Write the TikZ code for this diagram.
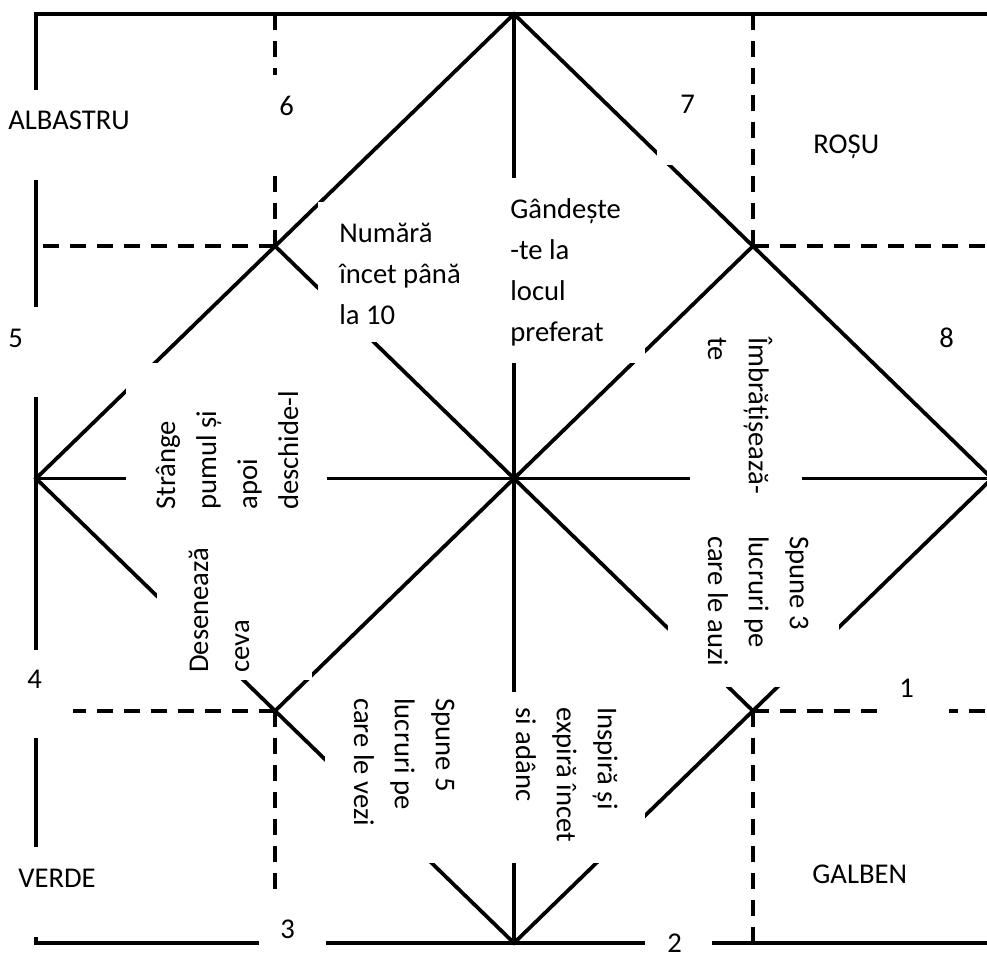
\documentclass[tikz,border=0pt]{standalone}
\usepackage{fontspec}
\setmainfont{Carlito}

\newcommand{\lblfont}{\fontsize{16.3}{23.3}\selectfont}

\tikzset{
fold/.style={line width=0.075cm},
crease/.style={line width=0.075cm, dash pattern=on 0.32cm off 0.22cm},
boxfill/.style={fill=white},
lbl/.style={font=\lblfont, inner sep=0pt, align=left}
}

\begin{document}
\begin{tikzpicture}[x=0.02cm,y=-0.02cm]
\useasboundingbox (0,0) rectangle (987,960);

% corners of the sheet and of the folds
\coordinate (sq1) at (36,14);
\coordinate (sq2) at (992,943);
\coordinate (ptop) at (514,14);
\coordinate (pleft) at (36,478.5);
\coordinate (pbot) at (514,943);
\coordinate (pright) at (992,478.5);
\coordinate (ul) at (275,246);
\coordinate (ur) at (753,246);
\coordinate (ll) at (275,711);
\coordinate (lr) at (753,711);

\draw[fold] (sq1) rectangle (sq2);
\draw[fold] (ptop) -- (pleft) -- (pbot) -- (pright) -- cycle;
\draw[fold] (ptop) -- (pbot);
\draw[fold] (pleft) -- (pright);
\draw[fold] (ul) -- (lr);
\draw[fold] (ur) -- (ll);

\draw[crease] (ul) -- (275,14);
\draw[crease] (ul) -- (36,246);
\draw[crease] (ur) -- (753,14);
\draw[crease] (ur) -- (992,246);
\draw[crease] (ll) -- (36,711);
\draw[crease] (ll) -- (275,943);
\draw[crease] (lr) -- (992,711);
\draw[crease] (lr) -- (753,943);

% white text boxes
\path[boxfill] (0,90) rectangle (140,180);
\path[boxfill] (255,75) rectangle (318,175);
\path[boxfill] (657,60) rectangle (720,165);
\path[boxfill] (0,307) rectangle (60,397);
\path[boxfill] (0,650) rectangle (73,738);
\path[boxfill] (879,665) rectangle (949,720);
\path[boxfill] (0,847) rectangle (120,937);
\path[boxfill] (259,893) rectangle (326,960);
\path[boxfill] (645,925) rectangle (712,960);
\path[boxfill] (318,202) rectangle (480,342);
\path[boxfill] (497,178) rectangle (645,363);
\path[boxfill] (126,363) rectangle (327,525);
\path[boxfill] (157,525) rectangle (312,680);
\path[boxfill] (690,318) rectangle (802,520);
\path[boxfill] (668,520) rectangle (839,687);
\path[boxfill] (325,692) rectangle (490,863);
\path[boxfill] (490,692) rectangle (645,863);

\node[lbl, anchor=base west] (albastru) at (8,129) {ALBASTRU};
\node[lbl, anchor=base west] (rosu) at (813,153) {ROȘU};
\node[lbl, anchor=base west] (verde) at (18,887) {VERDE};
\node[lbl, anchor=base west] (galben) at (812,883) {GALBEN};

\node[lbl, anchor=base west] (n1) at (899,697) {1};
\node[lbl, anchor=base west] (n2) at (667,952) {2};
\node[lbl, anchor=base west] (n3) at (280,938) {3};
\node[lbl, anchor=base west] (n4) at (27,688) {4};
\node[lbl, anchor=base west] (n5) at (8,347) {5};
\node[lbl, anchor=base west] (n6) at (279,115) {6};
\node[lbl, anchor=base west] (n7) at (680,113) {7};
\node[lbl, anchor=base west] (n8) at (939,347) {8};

% multi-line texts: the base anchor sits on the last line
\node[lbl, anchor=base west] (numara) at (339,324) {Numără\\încet până\\la 10};
\node[lbl, anchor=base west] (gandeste) at (510,341) {Gândește\\-te la\\locul\\preferat};
\node[lbl, anchor=base west, rotate=-90] (imbratiseaza) at (708,337) {Îmbrățișează-\\te};
\node[lbl, anchor=base west, rotate=-90] (spune3) at (708,536) {Spune 3\\lucruri pe\\care le auzi};
\node[lbl, anchor=base west, rotate=-90] (inspira) at (516,707) {Inspiră și\\expiră încet\\si adânc};
\node[lbl, anchor=base west, rotate=-90] (spune5) at (354,698) {Spune 5\\lucruri pe\\care le vezi};
\node[lbl, anchor=base west, rotate=90] (deseneaza) at (249,673) {Desenează\\ceva};
\node[lbl, anchor=base west, rotate=90] (strange) at (298,510) {Strânge\\pumul și\\apoi\\deschide-l};

\end{tikzpicture}
\end{document}
